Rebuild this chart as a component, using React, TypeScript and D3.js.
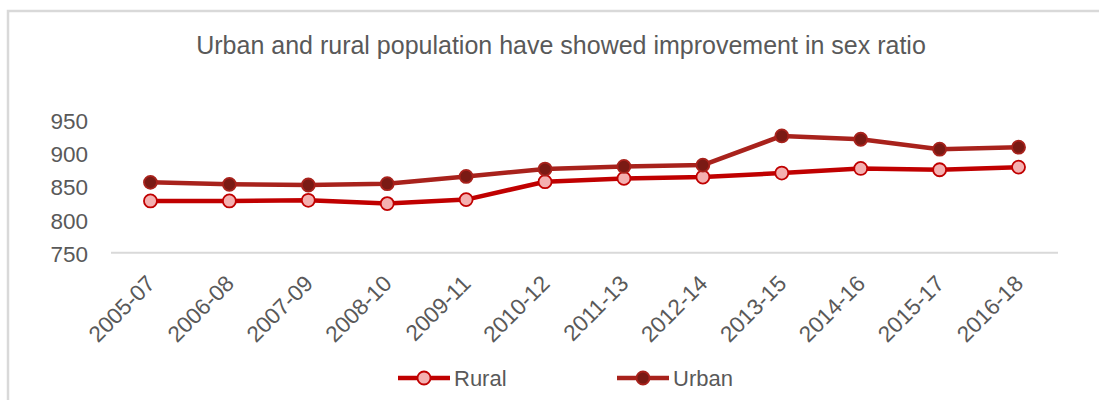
import React from "react";
import * as d3 from "d3";

const categories = ["2005-07","2006-08","2007-09","2008-10","2009-11","2010-12","2011-13","2012-14","2013-15","2014-16","2015-17","2016-18"];
const rural = [828, 828, 829, 824, 830, 857, 862, 864, 870, 877, 875, 879];
const urban = [856, 853, 852, 854, 865, 876, 880, 882, 926, 921, 906, 909];
const yTicks = [750, 800, 850, 900, 950];
const title = "Urban and rural population have showed improvement in sex ratio";

const W = 1099, H = 400;
const left = 111, right = 1058, top = 120, bottom = 252.7;
const font = "'Liberation Sans', Arial, sans-serif";
const textColor = "#595959";

const series = [
  { name: "Rural", values: rural, line: "#c00000", fill: "#f4b0b0", stroke: "#c00000" },
  { name: "Urban", values: urban, line: "#a8221c", fill: "#7a1a14", stroke: "#a8221c" },
];

export default function App() {
  const x = d3.scaleBand<string>().domain(categories).range([left, right]);
  const y = d3.scaleLinear().domain([750, 950]).range([bottom, top]);
  const cx = (c: string) => (x(c) as number) + x.bandwidth() / 2;
  const line = d3.line<number>().x((_, i) => cx(categories[i])).y((d) => y(d));

  const legendItems = [
    { s: series[0], x0: 398 },
    { s: series[1], x0: 617 },
  ];

  return (
    <svg width={W} height={H} style={{ position: "absolute", left: 0, top: 0, background: "#fff" }}>
      <rect x={8} y={11} width={W + 20} height={H + 20} fill="#fff" stroke="#d9d9d9" strokeWidth={2.5} />
      <text x={561} y={54} textAnchor="middle" fontFamily={font} fontSize={25} fill={textColor}>{title}</text>
      <line x1={left} x2={right} y1={y(750)} y2={y(750)} stroke="#d9d9d9" strokeWidth={2} />
      {yTicks.map((t) => (
        <text key={t} x={88} y={y(t) + 1} dy="0.36em" textAnchor="end" fontFamily={font} fontSize={22.5} fill={textColor}>{t}</text>
      ))}
      {categories.map((c) => (
        <text key={c} transform={`translate(${cx(c) + 6},${285}) rotate(-45)`} textAnchor="end" fontFamily={font} fontSize={22.5} fill={textColor}>{c}</text>
      ))}
      {series.map((s) => (
        <g key={s.name}>
          <path d={line(s.values) || ""} fill="none" stroke={s.line} strokeWidth={4.5} strokeLinejoin="round" />
          {s.values.map((v, i) => (
            <circle key={i} cx={cx(categories[i])} cy={y(v)} r={6.5} fill={s.fill} stroke={s.stroke} strokeWidth={1.8} />
          ))}
        </g>
      ))}
      {legendItems.map(({ s, x0 }) => (
        <g key={s.name}>
          <line x1={x0} x2={x0 + 52} y1={378} y2={378} stroke={s.line} strokeWidth={4.5} />
          <circle cx={x0 + 26} cy={378} r={6.5} fill={s.fill} stroke={s.stroke} strokeWidth={1.8} />
          <text x={x0 + 56} y={378} dy="0.36em" fontFamily={font} fontSize={22} fill={textColor}>{s.name}</text>
        </g>
      ))}
    </svg>
  );
}
